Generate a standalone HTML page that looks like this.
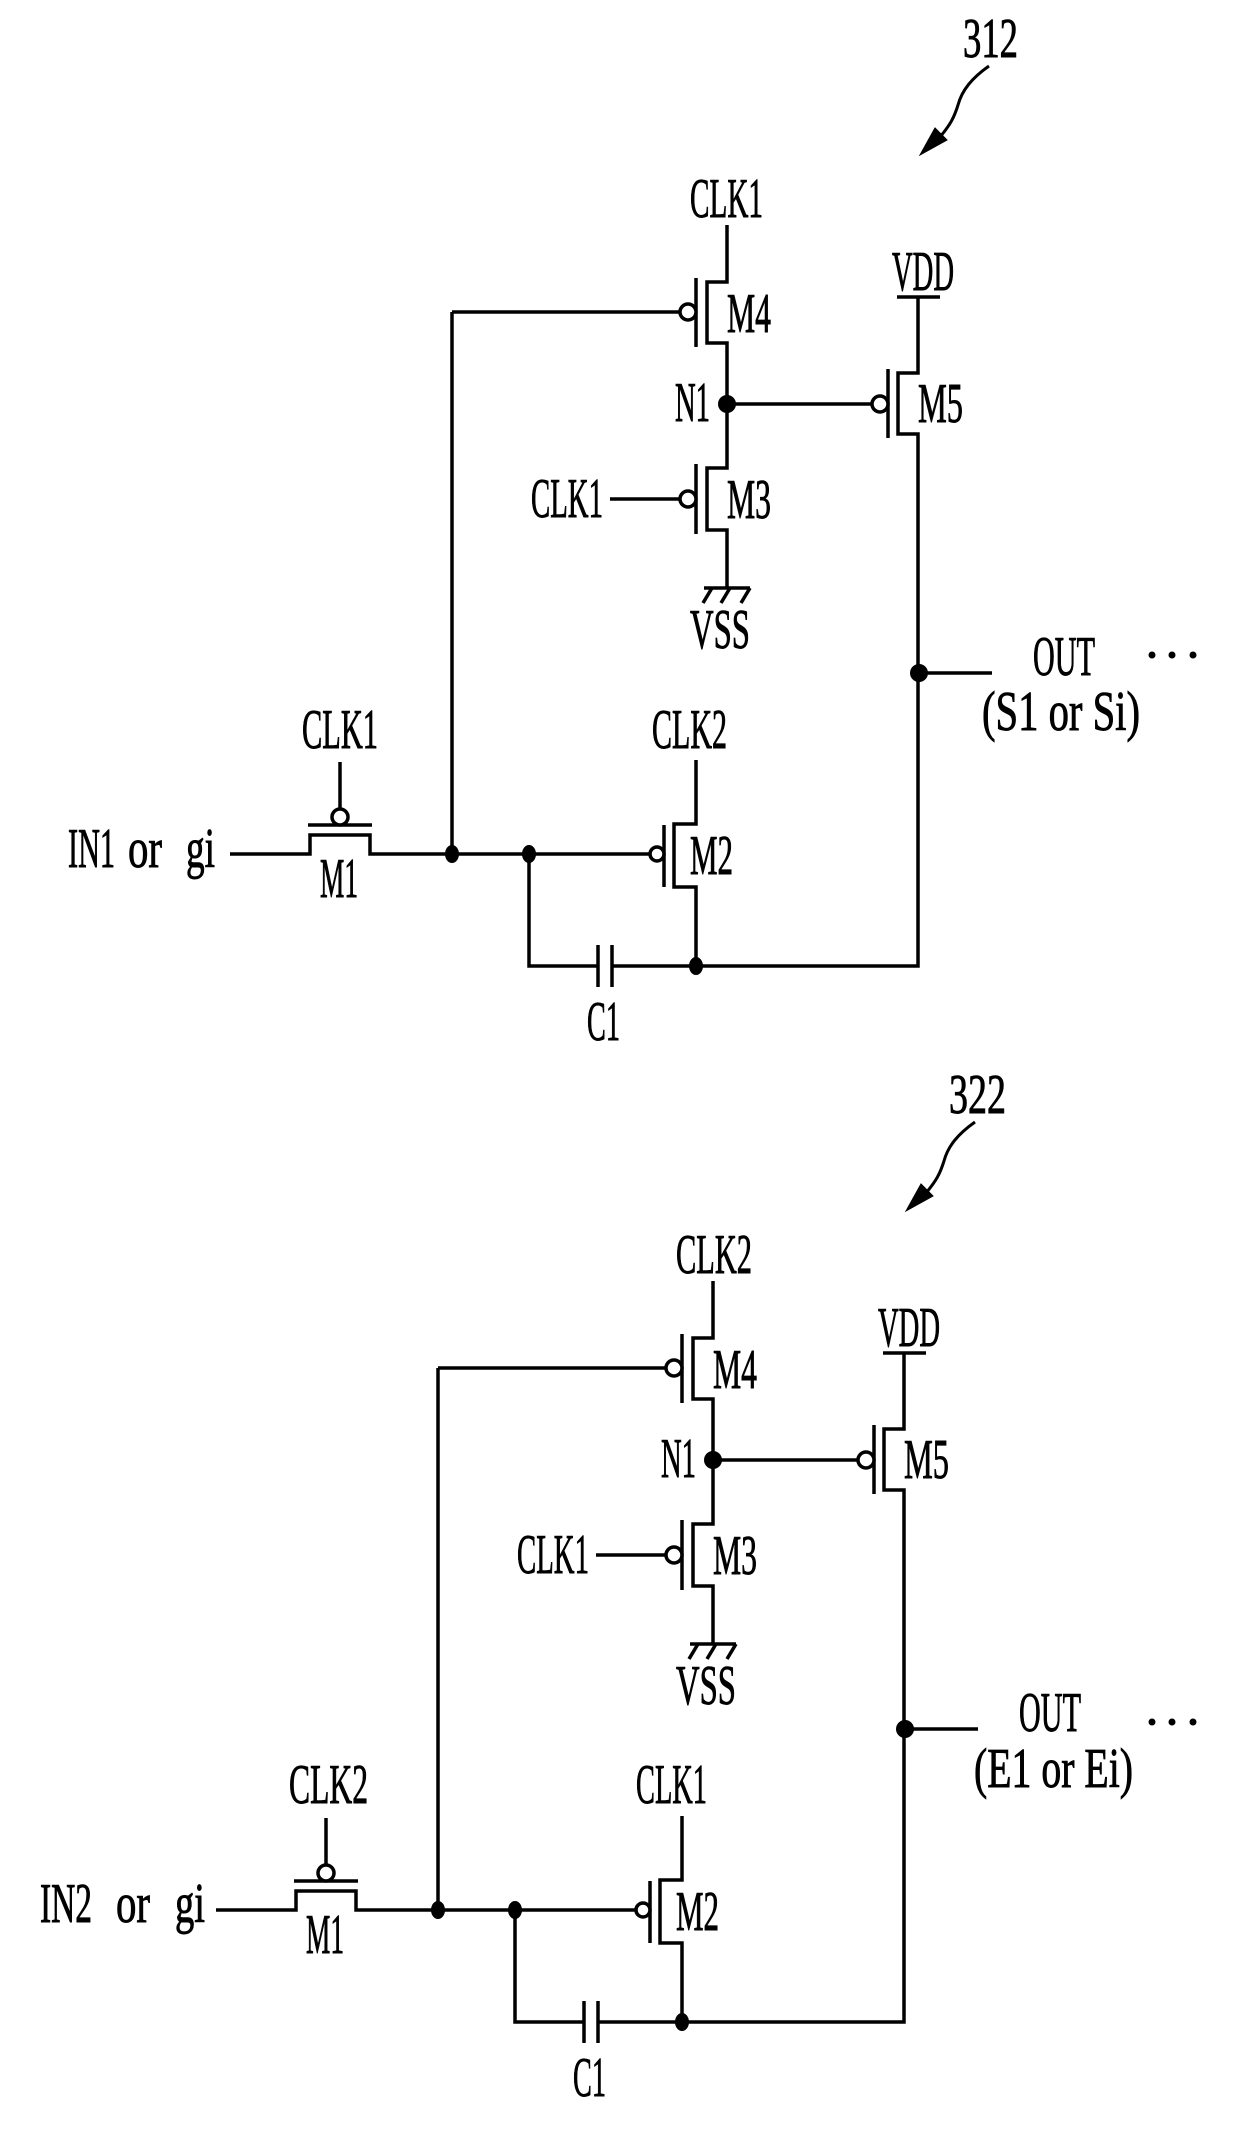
<!DOCTYPE html>
<html><head><meta charset="utf-8"><style>
html,body{margin:0;padding:0;background:#fff;}
svg{display:block;}
text{font-family:"Liberation Serif",serif;font-size:56px;fill:#000;stroke:#000;stroke-width:0.9px;}
</style></head><body>
<svg width="1240" height="2139" viewBox="0 0 1240 2139" xmlns="http://www.w3.org/2000/svg">
<defs>
<g id="w" fill="none" stroke="#000" stroke-width="3.5">
  <path d="M727 225 V282 H707 V343 H727 V468 H707 V530 H727 V588"/>
  <path d="M696 278 V347 M696 464 V534"/>
  <path d="M452 312 H680 M452 312 V854 M610 499 H680"/>
  <path d="M704 588 H750 M712 588 L703 603 M730 588 L721 603 M750 588 L741 603"/>
  <path d="M727 404 H872 M888 369 V438"/>
  <path d="M897 297 H940 M918 297 V373 H898 V434 H918 V966 H612"/>
  <path d="M919 673 H992"/>
  <path d="M230 854 H310 V835 H370 V854 H650 M308 825 H372 M340 762 V809"/>
  <path d="M664 825 V887 M696 760 V824 H674 V887 H696 V966"/>
  <path d="M529 854 V966 H598 M598 945 V987 M612 945 V987"/>
  <circle cx="688" cy="312" r="8" fill="#fff"/>
  <circle cx="688" cy="499" r="8" fill="#fff"/>
  <circle cx="880" cy="404" r="8" fill="#fff"/>
  <circle cx="340" cy="817" r="8" fill="#fff"/>
  <circle cx="657" cy="854" r="7" fill="#fff"/>
  <path d="M989 66 C972 78 962 90 958 105 C954 118 950 125 940 137" stroke-width="3"/>
  <path d="M920 155 L935 128 L947 140 Z" fill="#000" stroke-width="1"/>
</g>
<g id="d" fill="#000">
  <ellipse cx="727" cy="404" rx="9" ry="9"/>
  <ellipse cx="919" cy="673" rx="9" ry="9"/>
  <ellipse cx="452" cy="854" rx="7" ry="9"/>
  <ellipse cx="529" cy="854" rx="7" ry="9"/>
  <ellipse cx="696" cy="966" rx="7" ry="9"/>
</g>
</defs>

<use href="#w"/>
<use href="#d"/>
<g>
<text x="963" y="57" textLength="55" lengthAdjust="spacingAndGlyphs">312</text>
<text x="690" y="217" textLength="73" lengthAdjust="spacingAndGlyphs">CLK1</text>
<text x="892" y="290" textLength="62" lengthAdjust="spacingAndGlyphs">VDD</text>
<text x="727" y="332" textLength="44" lengthAdjust="spacingAndGlyphs">M4</text>
<text x="675" y="421" textLength="35" lengthAdjust="spacingAndGlyphs">N1</text>
<text x="918" y="422" textLength="45" lengthAdjust="spacingAndGlyphs">M5</text>
<text x="531" y="517" textLength="72" lengthAdjust="spacingAndGlyphs">CLK1</text>
<text x="727" y="518" textLength="44" lengthAdjust="spacingAndGlyphs">M3</text>
<text x="690" y="648" textLength="60" lengthAdjust="spacingAndGlyphs">VSS</text>
<text x="1033" y="675" textLength="62" lengthAdjust="spacingAndGlyphs">OUT</text>
<text x="982" y="730" textLength="158" lengthAdjust="spacingAndGlyphs">(S1 or Si)</text>
<text x="302" y="748" textLength="76" lengthAdjust="spacingAndGlyphs">CLK1</text>
<text x="652" y="748" textLength="75" lengthAdjust="spacingAndGlyphs">CLK2</text>
<text x="68" y="867" textLength="47" lengthAdjust="spacingAndGlyphs">IN1</text>
<text x="128" y="867" textLength="34" lengthAdjust="spacingAndGlyphs">or</text>
<text x="186" y="867" textLength="29" lengthAdjust="spacingAndGlyphs">gi</text>
<text x="320" y="897" textLength="38" lengthAdjust="spacingAndGlyphs">M1</text>
<text x="690" y="874" textLength="43" lengthAdjust="spacingAndGlyphs">M2</text>
<text x="587" y="1040" textLength="33" lengthAdjust="spacingAndGlyphs">C1</text>
<circle cx="1152" cy="655" r="3.5"/><circle cx="1172" cy="655" r="3.5"/><circle cx="1193" cy="655" r="3.5"/>
</g>

<g transform="translate(-14,1056)">
<use href="#w"/>
<use href="#d"/>
<text x="963" y="57" textLength="57" lengthAdjust="spacingAndGlyphs">322</text>
<text x="690" y="217" textLength="76" lengthAdjust="spacingAndGlyphs">CLK2</text>
<text x="892" y="290" textLength="62" lengthAdjust="spacingAndGlyphs">VDD</text>
<text x="727" y="332" textLength="44" lengthAdjust="spacingAndGlyphs">M4</text>
<text x="675" y="421" textLength="35" lengthAdjust="spacingAndGlyphs">N1</text>
<text x="918" y="422" textLength="45" lengthAdjust="spacingAndGlyphs">M5</text>
<text x="531" y="517" textLength="72" lengthAdjust="spacingAndGlyphs">CLK1</text>
<text x="727" y="518" textLength="44" lengthAdjust="spacingAndGlyphs">M3</text>
<text x="690" y="648" textLength="60" lengthAdjust="spacingAndGlyphs">VSS</text>
<text x="1033" y="675" textLength="62" lengthAdjust="spacingAndGlyphs">OUT</text>
<text x="988" y="731" textLength="159" lengthAdjust="spacingAndGlyphs">(E1 or Ei)</text>
<text x="303" y="747" textLength="79" lengthAdjust="spacingAndGlyphs">CLK2</text>
<text x="650" y="747" textLength="71" lengthAdjust="spacingAndGlyphs">CLK1</text>
<text x="54" y="866" textLength="52" lengthAdjust="spacingAndGlyphs">IN2</text>
<text x="130" y="866" textLength="34" lengthAdjust="spacingAndGlyphs">or</text>
<text x="189" y="866" textLength="30" lengthAdjust="spacingAndGlyphs">gi</text>
<text x="320" y="897" textLength="38" lengthAdjust="spacingAndGlyphs">M1</text>
<text x="690" y="874" textLength="43" lengthAdjust="spacingAndGlyphs">M2</text>
<text x="587" y="1040" textLength="33" lengthAdjust="spacingAndGlyphs">C1</text>
<circle cx="1166" cy="666" r="3.5"/><circle cx="1186" cy="666" r="3.5"/><circle cx="1207" cy="666" r="3.5"/>
</g>
</svg>
</body></html>
